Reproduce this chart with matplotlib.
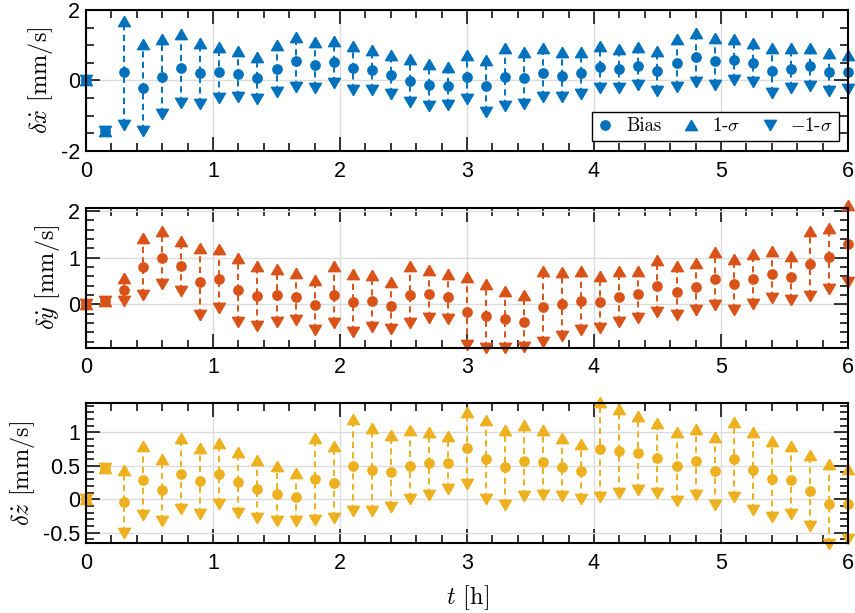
import numpy as np
import matplotlib
matplotlib.use("Agg")
import matplotlib.pyplot as plt
from matplotlib.ticker import MultipleLocator, FormatStrFormatter

plt.rcParams['mathtext.fontset'] = 'cm'
plt.rcParams['axes.unicode_minus'] = False
plt.rcParams['font.family'] = ['Liberation Sans', 'DejaVu Sans']

# time [h]
t = [0.0, 0.15, 0.3, 0.45, 0.6, 0.75, 0.9, 1.05, 1.2, 1.35, 1.5, 1.65, 1.8, 1.95,
     2.1, 2.25, 2.4, 2.55, 2.7, 2.85, 3.0, 3.15, 3.3, 3.45, 3.6, 3.75, 3.9, 4.05,
     4.2, 4.35, 4.5, 4.65, 4.8, 4.95, 5.1, 5.25, 5.4, 5.55, 5.7, 5.85, 6.0]

# delta x-dot [mm/s]
bias_x = [0, -1.42, 0.23, -0.20, 0.10, 0.35, 0.22, 0.24, 0.17, 0.06, 0.33, 0.54, 0.43, 0.53,
          0.35, 0.29, 0.16, -0.01, -0.14, -0.15, 0.09, -0.15, 0.11, 0.07, 0.21, 0.13, 0.21,
          0.37, 0.33, 0.42, 0.26, 0.49, 0.66, 0.54, 0.57, 0.49, 0.27, 0.33, 0.40, 0.24, 0.24]
up_x = [0, -1.42, 1.70, 1.04, 1.18, 1.32, 1.06, 0.96, 0.84, 0.66, 1.00, 1.23, 1.10, 1.13,
        0.97, 0.86, 0.72, 0.61, 0.46, 0.37, 0.73, 0.57, 0.92, 0.80, 0.92, 0.80, 0.80,
        0.98, 0.90, 0.95, 0.84, 1.18, 1.36, 1.20, 1.17, 1.06, 0.92, 0.92, 0.92, 0.78, 0.73]
down_x = [0, -1.42, -1.26, -1.42, -0.95, -0.64, -0.66, -0.50, -0.47, -0.52, -0.34, -0.19, -0.22,
          -0.08, -0.28, -0.26, -0.38, -0.61, -0.72, -0.69, -0.53, -0.88, -0.72, -0.67, -0.48,
          -0.47, -0.38, -0.22, -0.22, -0.12, -0.31, -0.19, -0.03, -0.12, 0.02, -0.03, -0.36,
          -0.22, -0.15, -0.31, -0.25]

# delta y-dot [mm/s]
bias_y = [0, 0.06, 0.31, 0.79, 0.99, 0.82, 0.47, 0.54, 0.31, 0.18, 0.20, 0.15, -0.01, 0.19,
          0.04, 0.06, -0.03, 0.20, 0.21, 0.16, -0.16, -0.26, -0.32, -0.37, -0.06, 0.01, 0.07,
          0.04, 0.16, 0.22, 0.39, 0.27, 0.38, 0.54, 0.43, 0.54, 0.64, 0.58, 0.86, 1.01, 1.29]
up_y = [0, 0.06, 0.56, 1.41, 1.57, 1.36, 1.20, 1.18, 0.99, 0.82, 0.76, 0.66, 0.52, 0.81,
        0.65, 0.63, 0.47, 0.81, 0.74, 0.65, 0.59, 0.43, 0.29, 0.20, 0.71, 0.70, 0.71,
        0.61, 0.71, 0.71, 0.94, 0.81, 0.88, 1.11, 0.96, 1.08, 1.14, 1.04, 1.56, 1.64, 2.12]
down_y = [0, 0.06, 0.07, 0.20, 0.43, 0.29, -0.24, -0.09, -0.37, -0.46, -0.37, -0.34, -0.55,
          -0.41, -0.59, -0.48, -0.53, -0.41, -0.30, -0.32, -0.87, -0.94, -0.94, -0.91, -0.80,
          -0.68, -0.55, -0.51, -0.39, -0.29, -0.16, -0.24, -0.12, -0.01, -0.12, 0.00, 0.13,
          0.09, 0.18, 0.33, 0.47]

# delta z-dot [mm/s]
bias_z = [0, 0.46, -0.04, 0.28, 0.14, 0.37, 0.27, 0.37, 0.25, 0.15, 0.08, 0.03, 0.30, 0.24,
          0.50, 0.44, 0.41, 0.50, 0.54, 0.54, 0.76, 0.60, 0.48, 0.57, 0.55, 0.48, 0.42,
          0.75, 0.72, 0.69, 0.61, 0.49, 0.57, 0.42, 0.60, 0.43, 0.30, 0.29, 0.13, -0.07, -0.07]
up_z = [0, 0.46, 0.43, 0.80, 0.60, 0.91, 0.76, 0.84, 0.70, 0.59, 0.49, 0.39, 0.91, 0.79,
        1.20, 1.06, 0.96, 1.03, 1.00, 0.95, 1.31, 1.18, 1.04, 1.11, 1.03, 0.91, 0.83,
        1.46, 1.35, 1.25, 1.14, 1.01, 1.05, 0.93, 1.16, 1.01, 0.87, 0.79, 0.66, 0.53, 0.45]
down_z = [0, 0.46, -0.50, -0.23, -0.32, -0.15, -0.22, -0.07, -0.21, -0.28, -0.32, -0.33, -0.31,
          -0.28, -0.17, -0.17, -0.12, 0.00, 0.07, 0.15, 0.22, 0.01, -0.08, 0.05, 0.06, 0.05,
          0.01, 0.04, 0.09, 0.14, 0.09, -0.03, 0.07, -0.08, 0.04, -0.16, -0.26, -0.22, -0.40,
          -0.67, -0.60]

colors = ['#0072BD', '#D95319', '#EDB120']
ylabels = [r'$\delta\dot{x}$ [mm/s]', r'$\delta\dot{y}$ [mm/s]', r'$\delta\dot{z}$ [mm/s]']
legend_labels = ['Bias', r'1-$\sigma$', r'$-$1-$\sigma$']

# equilateral triangle markers (MATLAB-like)
tri_up = [(0, 0.866), (-1, -0.866), (1, -0.866), (0, 0.866)]
tri_down = [(0, -0.866), (-1, 0.866), (1, 0.866), (0, -0.866)]

fig = plt.figure(figsize=(8.55, 6.13), dpi=100)
positions = [[0.1006, 0.7537, 0.8912, 0.2300],
             [0.1006, 0.4328, 0.8912, 0.2284],
             [0.1006, 0.1137, 0.8912, 0.2284]]
ylims = [(-2, 2), (-0.93, 2.07), (-0.66, 1.435)]
yticks = [[-2, 0, 2], [0, 1, 2], [-0.5, 0, 0.5, 1]]
yminor = [0.5, 0.2, 0.1]
series = [(bias_x, up_x, down_x), (bias_y, up_y, down_y), (bias_z, up_z, down_z)]

tt = np.array(t)
axes = []
for i in range(3):
    ax = fig.add_axes(positions[i])
    axes.append(ax)
    c = colors[i]
    b, u, d = (np.array(s) for s in series[i])
    has_bar = u != d
    ax.vlines(tt[has_bar], d[has_bar], u[has_bar], colors=c, linestyles=(0, (3.2, 2.2)),
              linewidth=1.4, clip_on=False, zorder=2)
    ax.plot(tt, b, 'o', ms=6.7, color=c, mec=c, clip_on=False, zorder=3, label=legend_labels[0])
    ax.plot(tt, u, marker=tri_up, ls='none', ms=8.6, color=c, mec=c, clip_on=False, zorder=3,
            label=legend_labels[1])
    ax.plot(tt, d, marker=tri_down, ls='none', ms=8.6, color=c, mec=c, clip_on=False, zorder=3,
            label=legend_labels[2])

    ax.set_xlim(0, 6)
    ax.set_ylim(*ylims[i])
    ax.set_xticks([0, 1, 2, 3, 4, 5, 6])
    ax.xaxis.set_minor_locator(MultipleLocator(0.2))
    ax.set_yticks(yticks[i])
    ax.yaxis.set_minor_locator(MultipleLocator(yminor[i]))
    ax.yaxis.set_major_formatter(FormatStrFormatter('%g'))
    ax.grid(True, which='major', color='#dcdcdc', linewidth=1.0)
    ax.set_axisbelow(True)
    ax.tick_params(which='both', direction='in', top=True, right=True, labelsize=15.5,
                   colors='black', width=1.1)
    ax.tick_params(which='major', length=10)
    ax.tick_params(which='minor', length=5.5)
    ax.tick_params(axis='x', which='major', pad=7)
    ax.tick_params(axis='y', which='major', pad=4.5)
    for sp in ax.spines.values():
        sp.set_linewidth(1.5)
        sp.set_zorder(5)
    ax.set_ylabel(ylabels[i], fontsize=17.5, family='cmr10', labelpad=4)

axes[2].set_xlabel(r'$t$ [h]', fontsize=17.5, family='cmr10', labelpad=7)

leg = axes[0].legend(loc='lower right', bbox_to_anchor=(0.988, 0.071), ncol=3,
                     frameon=True, fancybox=False, edgecolor='black', framealpha=1,
                     borderaxespad=0, handlelength=0.8, handletextpad=0.7,
                     columnspacing=1.2, borderpad=0.3,
                     prop={'family': 'cmr10', 'size': 13.5})
leg.get_frame().set_linewidth(1.0)
leg.set_zorder(10)

fig.savefig('out.png', dpi=100)
